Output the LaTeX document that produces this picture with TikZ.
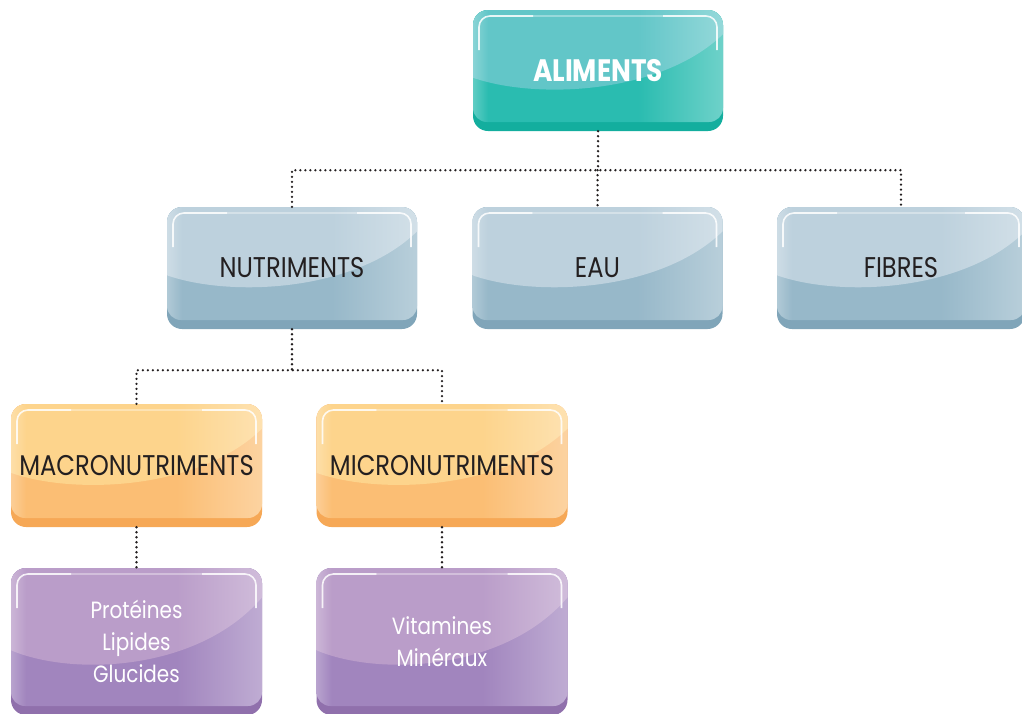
\documentclass[tikz,border=0pt]{standalone}
\usepackage{fontspec}
\setmainfont{Poppins}[FakeStretch=0.85]
\usetikzlibrary{calc}

% palette
\definecolor{tealTop}{HTML}{62C6C8}
\definecolor{tealLow}{HTML}{2ABCB0}
\definecolor{tealRim}{HTML}{13AE9E}
\definecolor{blueTop}{HTML}{BDD1DD}
\definecolor{blueLow}{HTML}{97B8C9}
\definecolor{blueRim}{HTML}{80A5B9}
\definecolor{orTop}{HTML}{FDD48C}
\definecolor{orLow}{HTML}{FBBE74}
\definecolor{orRim}{HTML}{F6A856}
\definecolor{purTop}{HTML}{BA9DC9}
\definecolor{purLow}{HTML}{A185BE}
\definecolor{purRim}{HTML}{9070AC}
\definecolor{inkDark}{HTML}{231F20}

% left-to-right sheen of a glossy face (25bp..75bp spans the filled path)
\pgfdeclarehorizontalshading[gfA]{glossface}{100bp}{%
  color(0bp)=(gfA!75!white); color(25bp)=(gfA!75!white); color(28bp)=(gfA);
  color(58bp)=(gfA); color(75bp)=(gfA!68!white); color(100bp)=(gfA!68!white)}

\tikzset{
  % #1 upper (glossy) colour, #2 lower face colour, #3 rim colour
  gbox/.style n args={3}{
    draw=none, fill=#3, rounded corners=15pt, inner sep=0pt, align=center,
    minimum width=250pt, minimum height=122pt,
    path picture={
      \coordinate (gsw) at (path picture bounding box.south west);
      \coordinate (gne) at (path picture bounding box.north east);
      \colorlet{gfA}{#2}
      \shade[shading=glossface, rounded corners=14pt]
        ($(gsw)+(0pt,9pt)$) rectangle (gne);
      \colorlet{gfA}{#1}
      \shade[shading=glossface, sharp corners]
        let \p1=(gsw), \p2=(gne), \n1={\x2-\x1}, \n2={\y2-\y1} in
        (\x1,\y2) -- (\x1,\y1+0.44*\n2)
        .. controls (\x1+0.25*\n1,\y1+0.26*\n2) and (\x1+0.75*\n1,\y1+0.30*\n2)
        .. (\x2,\y1+0.80*\n2) -- (\x2,\y2) -- cycle;
      \draw[white, opacity=0.85, line width=1.6pt, rounded corners=11pt]
        let \p1=(gsw), \p2=(gne) in
        (\x1+6pt,\y2-40pt) -- (\x1+6pt,\y2-6pt) -- (\x1+60pt,\y2-6pt);
      \draw[white, opacity=0.85, line width=1.6pt, rounded corners=11pt]
        let \p1=(gsw), \p2=(gne) in
        (\x2-6pt,\y2-40pt) -- (\x2-6pt,\y2-6pt) -- (\x2-60pt,\y2-6pt);
      \draw[white, opacity=0.35, line width=1.3pt]
        let \p1=(gsw), \p2=(gne) in
        (\x1+60pt,\y2-6pt) -- (\x2-60pt,\y2-6pt);
    }
  },
  tealbox/.style={gbox={tealTop}{tealLow}{tealRim}, text=white,
    font=\fontsize{31}{36}\selectfont\bfseries},
  bluebox/.style={gbox={blueTop}{blueLow}{blueRim}, text=inkDark,
    font=\fontsize{28.5}{34}\selectfont},
  orbox/.style={gbox={orTop}{orLow}{orRim}, text=inkDark,
    font=\fontsize{28.5}{34}\selectfont},
  purbox/.style={gbox={purTop}{purLow}{purRim}, text=white,
    font=\fontsize{23.5}{32}\selectfont, minimum height=147pt},
  dots/.style={draw=inkDark, line width=2.6pt, line cap=round,
    dash pattern=on 0pt off 5pt}
}

\begin{document}
\begin{tikzpicture}[x=1pt, y=-1pt]
  \useasboundingbox (0,0) rectangle (1022,713);

  % boxes
  \node[tealbox, minimum height=121pt] (alim) at (598,70.5) {ALIMENTS};
  \node[bluebox] (nutr) at (292,268) {NUTRIMENTS};
  \node[bluebox] (eau)  at (597.5,268) {EAU};
  \node[bluebox, minimum width=248pt] (fib) at (901,268) {FIBRES};
  \node[orbox, minimum width=251pt, minimum height=123pt] (macro) at (136.5,465.5) {MACRONUTRIMENTS};
  \node[orbox, minimum width=251pt, minimum height=123pt] (micro) at (442,465.5) {MICRONUTRIMENTS};
  \node[purbox, minimum width=251pt] (macrolist) at (136.5,641.5) {Protéines\\Lipides\\Glucides};
  \node[purbox, minimum width=251pt] (microlist) at (442,641.5) {Vitamines\\Minéraux};

  % dotted tree connectors
  \coordinate (j1) at ($(alim.south)+(0,39)$);
  \draw[dots] (alim.south) -- (j1);
  \draw[dots] (nutr.north) -- (nutr.north |- j1) -- (fib.north |- j1) -- (fib.north);
  \draw[dots] (eau.north |- j1) -- (eau.north);

  \coordinate (j2) at ($(nutr.south)+(0,41)$);
  \draw[dots] (nutr.south) -- (j2);
  \draw[dots] (macro.north) -- (macro.north |- j2) -- (micro.north |- j2) -- (micro.north);

  \draw[dots] (macro.south) -- (macrolist.north);
  \draw[dots] (micro.south) -- (microlist.north);
\end{tikzpicture}
\end{document}
